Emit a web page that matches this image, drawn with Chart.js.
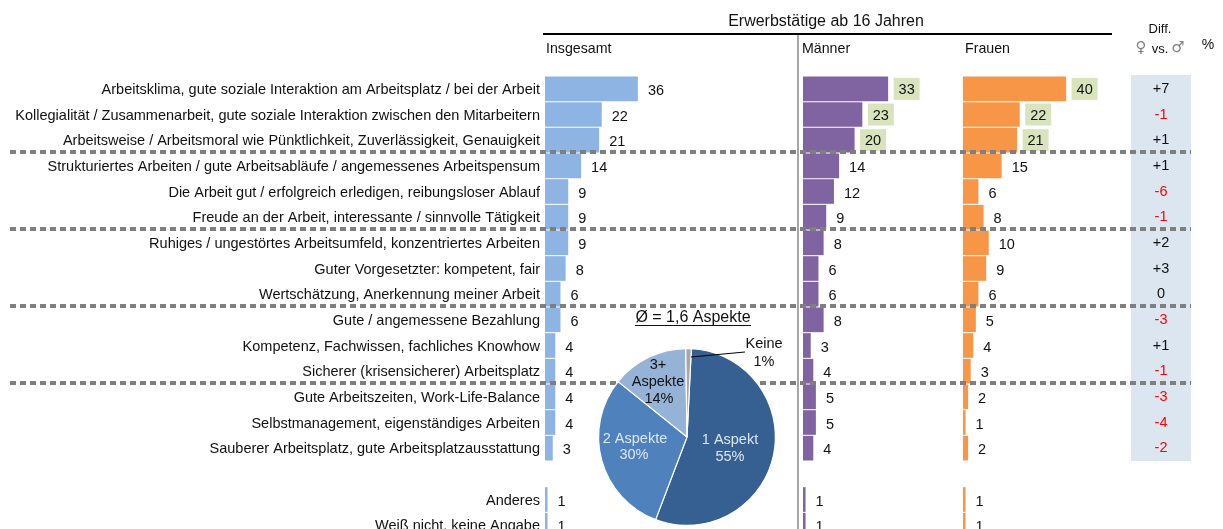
<!DOCTYPE html>
<html>
<head>
<meta charset="utf-8">
<title>Erwerbstätige ab 16 Jahren</title>
<script src="https://cdn.jsdelivr.net/npm/chart.js@4"></script>
<style>
  html { margin: 0; padding: 0; background: #fff; height: 529px; overflow: hidden; }
  body { margin: 0; padding: 0; background: #fff; width: 1223px; height: 538px; position: relative; }
  canvas { position: absolute; left: 0; top: 0; }
</style>
</head>
<body>
<canvas id="bars" width="1223" height="538"></canvas>
<canvas id="pie" width="1223" height="538"></canvas>
<script>
const categories = [
  "Arbeitsklima, gute soziale Interaktion am Arbeitsplatz / bei der Arbeit",
  "Kollegialität / Zusammenarbeit, gute soziale Interaktion zwischen den Mitarbeitern",
  "Arbeitsweise / Arbeitsmoral wie Pünktlichkeit, Zuverlässigkeit, Genauigkeit",
  "Strukturiertes Arbeiten / gute Arbeitsabläufe / angemessenes Arbeitspensum",
  "Die Arbeit gut / erfolgreich erledigen, reibungsloser Ablauf",
  "Freude an der Arbeit, interessante / sinnvolle Tätigkeit",
  "Ruhiges / ungestörtes Arbeitsumfeld, konzentriertes Arbeiten",
  "Guter Vorgesetzter: kompetent, fair",
  "Wertschätzung, Anerkennung meiner Arbeit",
  "Gute / angemessene Bezahlung",
  "Kompetenz, Fachwissen, fachliches Knowhow",
  "Sicherer (krisensicherer) Arbeitsplatz",
  "Gute Arbeitszeiten, Work-Life-Balance",
  "Selbstmanagement, eigenständiges Arbeiten",
  "Sauberer Arbeitsplatz, gute Arbeitsplatzausstattung",
  "",
  "Anderes",
  "Weiß nicht, keine Angabe"
];
const insgesamt = [36, 22, 21, 14, 9, 9, 9, 8, 6, 6, 4, 4, 4, 4, 3, null, 1, 1];
const maenner = [33, 23, 20, 14, 12, 9, 8, 6, 6, 8, 3, 4, 5, 5, 4, null, 1, 1];
const frauen = [40, 22, 21, 15, 6, 8, 10, 9, 6, 5, 4, 3, 2, 1, 2, null, 1, 1];
const diff = ["+7", "-1", "+1", "+1", "-6", "-1", "+2", "+3", "0", "-3", "+1", "-1", "-3", "-4", "-2"];

const pieLabels = ["1 Aspekt", "2 Aspekte", "3+ Aspekte", "Keine"];
const pieValues = [55, 30, 14, 1];

const FONT = '"Liberation Sans", Arial, sans-serif';
const TEXT = "#111";

function text(ctx, str, x, y, size, align, color, family) {
  ctx.font = size + "px " + (family || FONT);
  ctx.textAlign = align || "left";
  ctx.textBaseline = "middle";
  ctx.fillStyle = color || TEXT;
  ctx.fillText(str, x, y);
}

// column background goes under the bars
const backdrop = {
  id: "backdrop",
  beforeDatasetsDraw(chart) {
    const ctx = chart.ctx;
    ctx.fillStyle = "#DCE6F1";
    ctx.fillRect(1131, 75, 60, 386);
  }
};

const annotations = {
  id: "annotations",
  afterDatasetsDraw(chart) {
    const ctx = chart.ctx;
    const y = chart.scales.y;

    // value labels, the top three of Männer / Frauen get a green box
    chart.data.datasets.forEach((ds, d) => {
      chart.getDatasetMeta(d).data.forEach((bar, i) => {
        if (ds.data[i] == null) return;
        const rowY = y.getPixelForValue(i);
        if (d > 0 && i < 3) {
          ctx.fillStyle = "#D8E4BC";
          ctx.fillRect(bar.x + 5.5, rowY - 11, 26, 22);
          text(ctx, String(ds.data[i]), bar.x + 18.5, rowY + 1, 14.5, "center");
        } else {
          text(ctx, String(ds.data[i]), bar.x + 10, rowY + 2, 14.5, "left");
        }
      });
    });

    diff.forEach((d, i) => {
      text(ctx, d, 1161, y.getPixelForValue(i), 14.5, "center", d[0] === "-" ? "#FF0000" : TEXT);
    });

    // separators
    ctx.save();
    ctx.strokeStyle = "#7F7F7F";
    ctx.lineWidth = 4;
    ctx.setLineDash([6, 4]);
    [3, 6, 9, 12].forEach(i => {
      const ly = Math.round(y.getPixelForValue(i - 0.5)) - 1;
      ctx.beginPath();
      ctx.moveTo(10, ly);
      ctx.lineTo(1191, ly);
      ctx.stroke();
    });
    ctx.restore();

    // header
    ctx.fillStyle = "#000";
    ctx.fillRect(543, 33, 569, 2);
    ctx.fillStyle = "#A6A6A6";
    ctx.fillRect(797, 35, 2, 503);
    text(ctx, "Erwerbstätige ab 16 Jahren", 826, 22, 16, "center");
    text(ctx, "Insgesamt", 546, 49, 14.2);
    text(ctx, "Männer", 802, 49, 14.2);
    text(ctx, "Frauen", 965, 49, 14.2);
    text(ctx, "Diff.", 1160, 29, 13, "center");
    text(ctx, "♀", 1141, 48, 15, "center", "#7F7F7F", '"DejaVu Sans"');
    text(ctx, "vs.", 1160, 49, 13, "center");
    text(ctx, "♂", 1178, 48, 15, "center", "#7F7F7F", '"DejaVu Sans"');
    text(ctx, "%", 1208, 45, 14, "center");
  }
};

const pieText = {
  id: "pieText",
  afterDatasetsDraw(chart) {
    const ctx = chart.ctx;
    text(ctx, "Ø = 1,6 Aspekte", 693, 318, 16, "center");
    ctx.fillStyle = TEXT;
    ctx.fillRect(635, 325, 116, 1);

    ctx.strokeStyle = "#000";
    ctx.lineWidth = 1;
    ctx.beginPath();
    ctx.moveTo(691, 357);
    ctx.lineTo(745, 352);
    ctx.stroke();

    text(ctx, "1 Aspekt", 730, 440, 14.5, "center", "#DCE6F1");
    text(ctx, pieValues[0] + "%", 730, 457, 14.5, "center", "#DCE6F1");
    text(ctx, "2 Aspekte", 635, 439, 14.5, "center", "#DCE6F1");
    text(ctx, pieValues[1] + "%", 634, 455, 14.5, "center", "#DCE6F1");
    text(ctx, "3+", 658, 365, 14.5, "center");
    text(ctx, "Aspekte", 658, 382, 14.5, "center");
    text(ctx, pieValues[2] + "%", 659, 399, 14.5, "center");
    text(ctx, "Keine", 764, 344, 14.5, "center");
    text(ctx, pieValues[3] + "%", 764, 362, 14.5, "center");
  }
};

new Chart(document.getElementById("bars"), {
  type: "bar",
  data: {
    labels: categories,
    datasets: [
      { label: "Insgesamt", data: insgesamt, xAxisID: "x1", backgroundColor: "#8EB4E3" },
      { label: "Männer", data: maenner, xAxisID: "x2", backgroundColor: "#8064A2" },
      { label: "Frauen", data: frauen, xAxisID: "x3", backgroundColor: "#F79646" }
    ]
  },
  options: {
    indexAxis: "y",
    responsive: false,
    animation: false,
    events: [],
    layout: { padding: { top: 76 } },
    datasets: { bar: { grouped: false, categoryPercentage: 1, barPercentage: 0.96 } },
    plugins: { legend: { display: false }, tooltip: { enabled: false } },
    scales: {
      // same pixels per percent on all three, only the zero moves
      x1: { display: false, min: 0, max: 262.8 },
      x2: { display: false, min: -100, max: 162.8 },
      x3: { display: false, min: -162, max: 100.8 },
      y: {
        afterFit(scale) {
          scale.width = 545;
          // no room reserved for half a label at the ends of the axis
          scale.paddingTop = 0;
          scale.paddingBottom = 0;
        },
        grid: { display: false, drawTicks: false },
        border: { display: false },
        ticks: { autoSkip: false, padding: 5, labelOffset: 1, color: TEXT, font: { family: FONT, size: 14.5 } }
      }
    }
  },
  plugins: [backdrop, annotations]
});

new Chart(document.getElementById("pie"), {
  type: "pie",
  data: {
    labels: pieLabels,
    datasets: [{
      data: pieValues,
      backgroundColor: ["#376092", "#4F81BD", "#95B3D7", "#A6A6A6"],
      borderColor: "#fff",
      borderWidth: 1.2
    }]
  },
  options: {
    responsive: false,
    animation: false,
    events: [],
    rotation: 2.8,
    layout: { padding: { left: 598, right: 447, top: 348, bottom: 12 } },
    plugins: { legend: { display: false }, tooltip: { enabled: false } }
  },
  plugins: [pieText]
});
</script>
</body>
</html>
